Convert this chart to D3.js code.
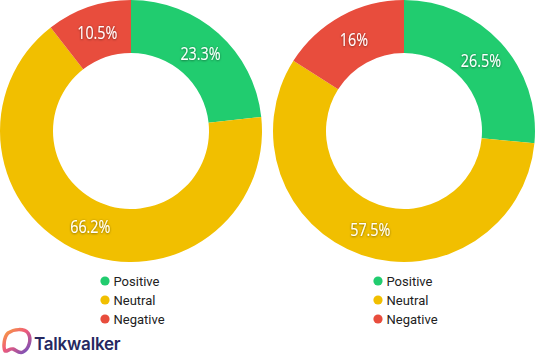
<!DOCTYPE html>
<html>
<head>
<meta charset="utf-8">
<script src="https://cdn.jsdelivr.net/npm/d3@7"></script>
<style>
  body { margin: 0; background: #fff; }
  svg { display: block; }
</style>
</head>
<body>
<div id="chart"></div>
<script>
// sentiment split, two periods
var categories = ['Positive', 'Neutral', 'Negative'];
var leftValues = [23.3, 66.2, 10.5];
var rightValues = [26.5, 57.5, 16];
var labelsLeft = ['23.3%', '66.2%', '10.5%'];
var labelsRight = ['26.5%', '57.5%', '16%'];

var COLORS = {
    'Positive': '#21cc6f',
    'Neutral':  '#f1bf00',
    'Negative': '#e84d3d'
};

var WIDTH = 536;
var HEIGHT = 361;
var R_OUT = 131;
var R_IN = 78;

var svg = d3.select('#chart').append('svg')
    .attr('width', WIDTH)
    .attr('height', HEIGHT);

var defs = svg.append('defs');
var shadow = defs.append('filter').attr('id', 'shadow')
    .attr('x', '-20%').attr('y', '-30%').attr('width', '140%').attr('height', '160%');
shadow.append('feDropShadow')
    .attr('dx', 0).attr('dy', 0.5)
    .attr('stdDeviation', 1.2)
    .attr('flood-color', '#000')
    .attr('flood-opacity', 0.55);

var pie = d3.pie().sort(null).value(function(d) { return d.value; });
var arc = d3.arc().innerRadius(R_IN).outerRadius(R_OUT);
var labelArc = d3.arc().innerRadius(104).outerRadius(104);

function donut(cx, cy, values, labels) {
    var rows = categories.map(function(c, i) {
        return { name: c, value: values[i], label: labels[i] };
    });
    var g = svg.append('g')
        .attr('transform', 'translate(' + cx + ',' + cy + ')');
    var slices = pie(rows);
    g.selectAll('path').data(slices).enter()
        .append('path')
        .attr('d', arc)
        .attr('fill', function(d) { return COLORS[d.data.name]; });
    // narrow-looking labels: squeeze Open Sans horizontally
    g.selectAll('text').data(slices).enter()
        .append('text')
        .attr('transform', function(d) {
            return 'translate(' + labelArc.centroid(d) + ') scale(0.82,1)';
        })
        .attr('text-anchor', 'middle')
        .attr('dy', '0.36em')
        .attr('fill', '#fff')
        .attr('filter', 'url(#shadow)')
        .style('font-family', '"Open Sans", sans-serif')
        .style('font-size', '17.5px')
        .text(function(d) { return d.data.label; });
}

function legend(x, y) {
    var g = svg.append('g')
        .attr('transform', 'translate(' + x + ',' + y + ')');
    var items = g.selectAll('g').data(categories).enter()
        .append('g')
        .attr('transform', function(d, i) { return 'translate(0,' + (i * 19) + ')'; });
    items.append('circle')
        .attr('r', 4.6)
        .attr('fill', function(d) { return COLORS[d]; });
    items.append('text')
        .attr('x', 8.5)
        .attr('dy', '0.36em')
        .attr('fill', '#222')
        .style('font-family', 'Roboto, sans-serif')
        .style('font-size', '13px')
        .text(function(d) { return d; });
}

donut(131, 131, leftValues, labelsLeft);
donut(404, 131, rightValues, labelsRight);
legend(105, 281);
legend(378, 281);

// brand mark bottom-left
var grad = defs.append('linearGradient').attr('id', 'brand')
    .attr('x1', '0%').attr('y1', '0%').attr('x2', '100%').attr('y2', '100%');
grad.append('stop').attr('offset', '0%').attr('stop-color', '#f7a23b');
grad.append('stop').attr('offset', '45%').attr('stop-color', '#ef5a7a');
grad.append('stop').attr('offset', '100%').attr('stop-color', '#6a4fc0');

svg.append('path')
    .attr('d', 'M8,333 C14,329 24,328 28,333 C32,339 29,349 23,352 C19,354 16,350 13,349 C10,348 7,352 5,351 C3,347 4,337 8,333 Z')
    .attr('fill', '#fff')
    .attr('stroke', 'url(#brand)')
    .attr('stroke-width', 3.5)
    .attr('stroke-linejoin', 'round');

svg.append('text')
    .attr('x', 34)
    .attr('y', 350)
    .attr('fill', '#26285f')
    .style('font-family', 'Inter, "Noto Sans", sans-serif')
    .style('font-size', '17px')
    .style('font-weight', 600)
    .style('letter-spacing', '-0.2px')
    .text('Talkwalker');
</script>
</body>
</html>
